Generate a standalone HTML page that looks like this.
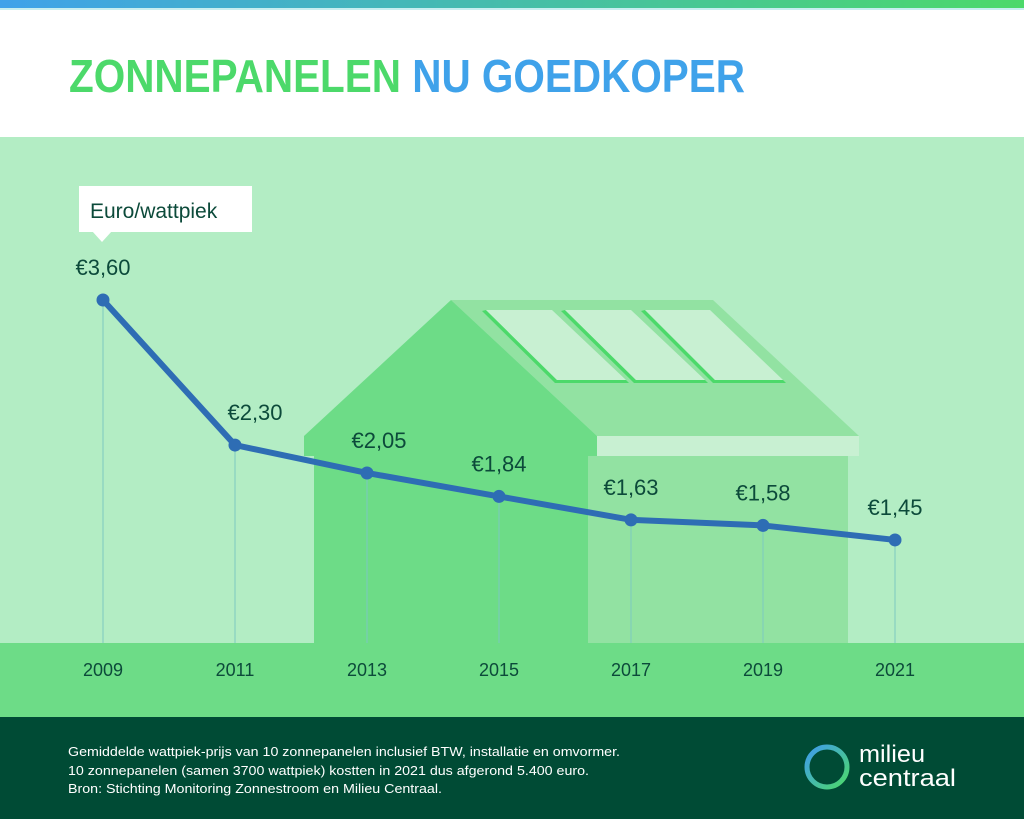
<!DOCTYPE html>
<html><head><meta charset="utf-8"><style>
html,body{margin:0;padding:0;width:1024px;height:819px;overflow:hidden;background:#fff}
svg{display:block}
text{font-family:"Liberation Sans",sans-serif}
</style></head><body>
<svg id="chart" width="1024" height="819" viewBox="0 0 1024 819">
<defs>
<linearGradient id="topbar" x1="0" x2="1"><stop offset="0" stop-color="#3fa2ea"/><stop offset="1" stop-color="#4cd96a"/></linearGradient>
<linearGradient id="ring" x1="0" y1="0" x2="1" y2="1"><stop offset="0" stop-color="#3f9bec"/><stop offset="1" stop-color="#4cd96a"/></linearGradient>
</defs>
<rect x="0" y="0" width="1024" height="8" fill="url(#topbar)"/>
<rect x="0" y="8" width="1024" height="2" fill="#c8eef0"/>
<text x="69" y="92" font-size="46" font-weight="bold" textLength="676" lengthAdjust="spacingAndGlyphs"><tspan fill="#4cd96a">ZONNEPANELEN </tspan><tspan fill="#3fa2ea">NU GOEDKOPER</tspan></text>
<rect x="0" y="137" width="1024" height="506" fill="#b3edc4"/>
<g>
<polygon points="451,300 713,300 859,436 597,436" fill="#92e2a2"/>
<rect x="597" y="436" width="262" height="20" fill="#c8f0d2"/>
<rect x="588" y="456" width="260" height="187" fill="#92e2a2"/>
<polygon points="304,436 451,300 597,436 597,456 588,456 588,643 314,643 314,456 304,456" fill="#6ddc87"/>
<g fill="#4cd96a"><polygon points="482,311 555,383 629,383 626,380 557,380 486,310"/><polygon points="561,311 634,383 708,383 705,380 636,380 565,310"/><polygon points="641,311 713,383 786,383 783,380 715,380 645,310"/></g>
<g fill="#c8f0d2"><polygon points="486,310 552,310 626,380 557,380"/><polygon points="565,310 631,310 705,380 636,380"/><polygon points="645,310 710,310 783,380 715,380"/></g>
</g>
<rect x="0" y="643" width="1024" height="74" fill="#6ddc87"/>
<g id="marks"></g>
<g>
<rect x="79" y="186" width="173" height="46" fill="#fff"/>
<polygon points="92,231 112,231 102,242" fill="#fff"/>
<text x="90" y="218" font-size="21" fill="#0c4a3a">Euro/wattpiek</text>
</g>
<rect x="0" y="717" width="1024" height="102" fill="#004b35"/>
<g fill="#fff" font-size="13">
<text x="68" y="756" textLength="552" lengthAdjust="spacingAndGlyphs">Gemiddelde wattpiek-prijs van 10 zonnepanelen inclusief BTW, installatie en omvormer.</text>
<text x="68" y="775" textLength="521" lengthAdjust="spacingAndGlyphs">10 zonnepanelen (samen 3700 wattpiek) kostten in 2021 dus afgerond 5.400 euro.</text>
<text x="68" y="793" textLength="374" lengthAdjust="spacingAndGlyphs">Bron: Stichting Monitoring Zonnestroom en Milieu Centraal.</text>
</g>
<g>
<circle cx="827" cy="767" r="20" fill="none" stroke="url(#ring)" stroke-width="5"/>
<text x="859" y="762" font-size="24" fill="#fff" textLength="66" lengthAdjust="spacingAndGlyphs">milieu</text>
<text x="859" y="786" font-size="24" fill="#fff" textLength="97" lengthAdjust="spacingAndGlyphs">centraal</text>
</g>
</svg>
<script>
const years = ["2009","2011","2013","2015","2017","2019","2021"];
const prices = [3.60, 2.30, 2.05, 1.84, 1.63, 1.58, 1.45];
const priceLabels = ["€3,60","€2,30","€2,05","€1,84","€1,63","€1,58","€1,45"];
const NS="http://www.w3.org/2000/svg";
function xPos(i){return 103+i*132;}
function yPos(v){return 300+(3.6-v)*111.6;}
const g=document.getElementById('marks');
function mk(tag,attrs){const e=document.createElementNS(NS,tag);for(const k in attrs)e.setAttribute(k,attrs[k]);g.appendChild(e);return e;}
prices.forEach((v,i)=>{
  const l=mk('line',{x1:xPos(i),x2:xPos(i),y1:yPos(v),y2:643,stroke:'#7cc9c0','stroke-width':1});
  
  
});
const pl=mk('polyline',{points:prices.map((v,i)=>xPos(i)+','+yPos(v)).join(' '),fill:'none',stroke:'#2e6db4','stroke-width':6,'stroke-linejoin':'round'});


prices.forEach((v,i)=>{
  const c=mk('circle',{cx:xPos(i),cy:yPos(v),r:6.5,fill:'#2e6db4'});
  
  
  const t=mk('text',{x:xPos(i)+(i===1?20:(i===2?12:0)),y:yPos(v)-25,'text-anchor':'middle','font-size':22,fill:'#0c4a3a'});
  t.textContent=priceLabels[i];
  
  
  const y=mk('text',{x:xPos(i),y:676,'text-anchor':'middle','font-size':18,fill:'#0c4a3a'});
  y.textContent=years[i];
  
  
});
</script>
</body></html>
